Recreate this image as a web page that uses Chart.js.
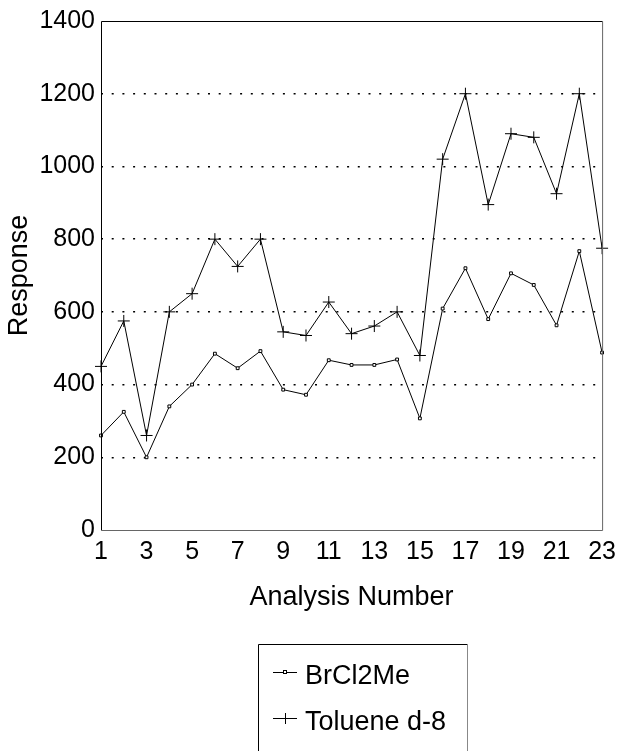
<!DOCTYPE html>
<html>
<head>
<meta charset="utf-8">
<script src="https://cdn.jsdelivr.net/npm/chart.js@4"></script>
<style>
    html, body { margin: 0; padding: 0; background: #fff; }
    #wrap { width: 623px; height: 751px; }
</style>
</head>
<body>
<div id="wrap"><canvas id="responseChart" width="623" height="751"></canvas></div>
<script>
// Data
const analysisNumbers = [1, 2, 3, 4, 5, 6, 7, 8, 9, 10, 11, 12, 13, 14, 15, 16, 17, 18, 19, 20, 21, 22, 23];
const brcl2me = [260, 325, 200, 340, 400, 485, 445, 492, 386, 372, 467, 454, 454, 469, 307, 609, 720, 580, 706, 674, 563, 767, 488];
const tolueneD8 = [450, 575, 260, 600, 650, 800, 725, 800, 545, 535, 627, 540, 561, 600, 480, 1020, 1200, 895, 1090, 1080, 925, 1200, 775];
const xTicks = [1, 3, 5, 7, 9, 11, 13, 15, 17, 19, 21, 23];
const seriesNames = ['BrCl2Me', 'Toluene d-8'];

const FONT = 'Liberation Sans, Arial, sans-serif';

// Box round the plot and the boxed legend under it
const framePlugin = {
    id: 'frame',
    afterDraw(chart) {
        const ctx = chart.ctx;
        const a = chart.chartArea;
        ctx.save();
        ctx.lineWidth = 1;
        ctx.strokeStyle = '#000';
        ctx.beginPath();
        ctx.moveTo(a.left + 0.5, a.bottom + 0.5);
        ctx.lineTo(a.left + 0.5, a.top + 0.5);
        ctx.lineTo(a.right + 0.5, a.top + 0.5);
        ctx.stroke();
        ctx.strokeStyle = '#666';
        ctx.beginPath();
        ctx.moveTo(a.right + 0.5, a.top + 0.5);
        ctx.lineTo(a.right + 0.5, a.bottom + 0.5);
        ctx.lineTo(a.left + 0.5, a.bottom + 0.5);
        ctx.stroke();

        // legend
        const lx = 258, ly = 644;
        ctx.strokeStyle = '#000';
        ctx.beginPath();
        ctx.moveTo(lx + 0.5, 760);
        ctx.lineTo(lx + 0.5, ly + 0.5);
        ctx.lineTo(467.5, ly + 0.5);
        ctx.stroke();
        ctx.strokeStyle = '#888';
        ctx.beginPath();
        ctx.moveTo(467.5, ly + 0.5);
        ctx.lineTo(467.5, 760);
        ctx.stroke();

        const rows = [672, 718];
        ctx.strokeStyle = '#000';
        ctx.fillStyle = '#000';
        rows.forEach((y, i) => {
            ctx.beginPath();
            ctx.moveTo(273, y + 0.5);
            ctx.lineTo(297, y + 0.5);
            ctx.stroke();
            if (i === 0) {
                ctx.fillStyle = '#fff';
                ctx.fillRect(283, y - 1.5, 4, 4);
                ctx.strokeRect(283.5, y - 1.5, 3, 3);
                ctx.fillStyle = '#000';
            } else {
                ctx.beginPath();
                ctx.moveTo(285.5, y - 5);
                ctx.lineTo(285.5, y + 6);
                ctx.stroke();
            }
            ctx.font = '27px ' + FONT;
            ctx.textBaseline = 'middle';
            ctx.textAlign = 'left';
            ctx.fillText(seriesNames[i], 305, y + 5);
        });
        ctx.restore();
    }
};

new Chart(document.getElementById('responseChart'), {
    type: 'line',
    data: {
        datasets: [{
            label: seriesNames[0],
            data: analysisNumbers.map((n, i) => ({ x: n, y: brcl2me[i] })),
            borderColor: '#000',
            borderWidth: 1,
            pointStyle: 'rect',
            pointRadius: 2,
            pointBackgroundColor: '#fff',
            pointBorderColor: '#000',
            pointBorderWidth: 1,
            tension: 0,
            clip: false
        }, {
            label: seriesNames[1],
            data: analysisNumbers.map((n, i) => ({ x: n, y: tolueneD8[i] })),
            borderColor: '#000',
            borderWidth: 1,
            pointStyle: 'cross',
            pointRadius: 6,
            pointBorderColor: '#000',
            pointBorderWidth: 1,
            tension: 0,
            clip: false
        }]
    },
    options: {
        responsive: false,
        animation: false,
        events: [],
        layout: { padding: { left: 0, right: 17, top: 20, bottom: 131 } },
        plugins: {
            legend: { display: false },
            tooltip: { enabled: false }
        },
        scales: {
            x: {
                type: 'linear',
                min: 1,
                max: 23,
                afterBuildTicks: scale => { scale.ticks = xTicks.map(v => ({ value: v })); },
                afterFit: scale => { scale.height = 90; },
                grid: { display: false, drawTicks: false },
                border: { display: false },
                ticks: {
                    color: '#000',
                    padding: 7,
                    maxRotation: 0,
                    autoSkip: false,
                    font: { family: FONT, size: 25 }
                },
                title: {
                    display: true,
                    text: 'Analysis Number',
                    color: '#000',
                    font: { family: FONT, size: 27 },
                    padding: { top: 0, bottom: 6 }
                }
            },
            y: {
                min: 0,
                max: 1400,
                afterFit: scale => { scale.width = 101; },
                grid: {
                    drawTicks: false,
                    color: ctx => (ctx.tick && (ctx.tick.value === 0 || ctx.tick.value === 1400)) ? 'rgba(0,0,0,0)' : '#000',
                    lineWidth: 1.5
                },
                border: { display: false, dash: [2, 8.7] },
                ticks: {
                    stepSize: 200,
                    color: '#000',
                    padding: 6,
                    font: { family: FONT, size: 25 },
                    callback: v => String(v)
                },
                title: {
                    display: true,
                    text: 'Response',
                    color: '#000',
                    font: { family: FONT, size: 27 },
                    padding: { top: 3, bottom: 0 }
                }
            }
        }
    },
    plugins: [framePlugin]
});
</script>
</body>
</html>
